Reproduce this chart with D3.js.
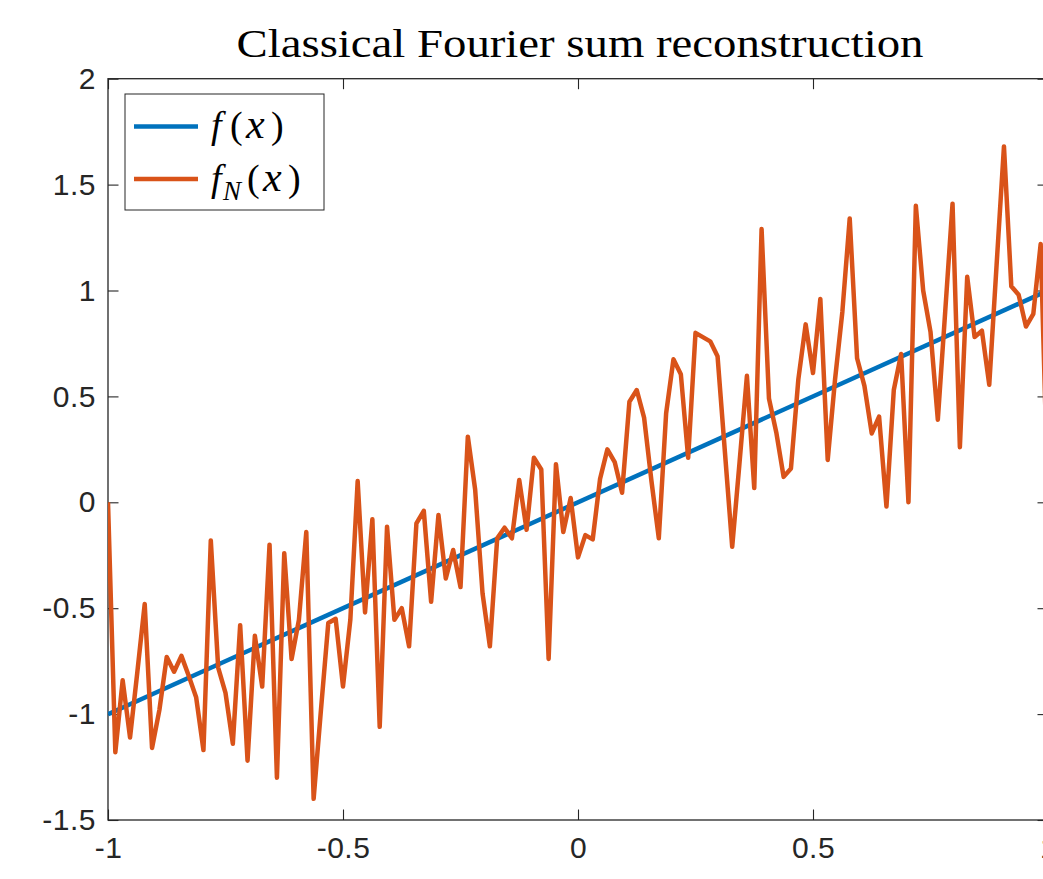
<!DOCTYPE html>
<meta charset="utf-8">
<style>

body {
  margin: 0;
  background: #fff;
}

svg {
  display: block;
}

.axis text {
  font-family: "Liberation Sans", Arial, sans-serif;
  font-size: 30px;
  letter-spacing: 0.5px;
  fill: #262626;
}

.math {
  font-family: "Liberation Serif", "Times New Roman", serif;
  font-size: 38px;
  fill: #000;
}

</style>
<svg width="1043" height="879"></svg>
<script src="https://d3js.org/d3.v7.min.js"></script>
<script>

// sample points of the reconstruction
var xs = [-1, -0.9844, -0.9688, -0.9531, -0.9375, -0.9219, -0.9063, -0.8906, -0.875, -0.8594,
  -0.8438, -0.8281, -0.8125, -0.7969, -0.7813, -0.7656, -0.75, -0.7344, -0.7188, -0.7031,
  -0.6875, -0.6719, -0.6563, -0.6406, -0.625, -0.6094, -0.5938, -0.5781, -0.5625, -0.5469,
  -0.5313, -0.5156, -0.5, -0.4844, -0.4688, -0.4531, -0.4375, -0.4219, -0.4063, -0.3906,
  -0.375, -0.3594, -0.3438, -0.3281, -0.3125, -0.2969, -0.2813, -0.2656, -0.25, -0.2344,
  -0.2188, -0.2031, -0.1875, -0.1719, -0.1563, -0.1406, -0.125, -0.1094, -0.0938, -0.0781,
  -0.0625, -0.0469, -0.0313, -0.0156, 0, 0.0156, 0.0313, 0.0469, 0.0625, 0.0781,
  0.0938, 0.1094, 0.125, 0.1406, 0.1563, 0.1719, 0.1875, 0.2031, 0.2188, 0.2344,
  0.25, 0.2656, 0.2813, 0.2969, 0.3125, 0.3281, 0.3438, 0.3594, 0.375, 0.3906,
  0.4063, 0.4219, 0.4375, 0.4531, 0.4688, 0.4844, 0.5, 0.5156, 0.5313, 0.5469,
  0.5625, 0.5781, 0.5938, 0.6094, 0.625, 0.6406, 0.6563, 0.6719, 0.6875, 0.7031,
  0.7188, 0.7344, 0.75, 0.7656, 0.7813, 0.7969, 0.8125, 0.8281, 0.8438, 0.8594,
  0.875, 0.8906, 0.9063, 0.9219, 0.9375, 0.9531, 0.9688, 0.9844, 1];

var fN = [0, -1.18, -0.84, -1.11, -0.80, -0.48, -1.16, -0.98, -0.73, -0.80,
  -0.725, -0.82, -0.92, -1.17, -0.18, -0.78, -0.90, -1.14, -0.58, -1.22,
  -0.63, -0.87, -0.20, -1.30, -0.24, -0.74, -0.555, -0.14, -1.40, -0.98,
  -0.57, -0.55, -0.87, -0.555, 0.10, -0.52, -0.08, -1.06, -0.115, -0.555,
  -0.50, -0.68, -0.10, -0.04, -0.47, -0.06, -0.36, -0.225, -0.40, 0.31,
  0.06, -0.43, -0.68, -0.17, -0.12, -0.17, 0.105, -0.13, 0.21, 0.155,
  -0.74, 0.18, -0.14, 0.02, -0.26, -0.155, -0.175, 0.11, 0.25, 0.19,
  0.045, 0.475, 0.53, 0.40, 0.10, -0.17, 0.42, 0.675, 0.605, 0.21,
  0.80, 0.78, 0.76, 0.69, 0.24, -0.21, 0.19, 0.597, 0.067, 1.29,
  0.49, 0.33, 0.12, 0.16, 0.58, 0.84, 0.61, 0.96, 0.20, 0.58,
  0.90, 1.34, 0.68, 0.55, 0.325, 0.405, -0.02, 0.53, 0.70, 0.0,
  1.40, 1.0, 0.805, 0.39, 0.90, 1.41, 0.26, 1.065, 0.78, 0.81,
  0.555, 1.12, 1.68, 1.02, 0.98, 0.83, 0.89, 1.22, 0];

// exact function f(x) = x
var fX = [-1, 1];
var fY = [-1, 1];

var xTicks = [-1, -0.5, 0, 0.5, 1];
var yTicks = [-1.5, -1, -0.5, 0, 0.5, 1, 1.5, 2];

var svg = d3.select("svg"),
    margin = {top: 78.7, left: 108},
    width = 940,
    height = 741.3,
    tick = 10.5;

var x = d3.scaleLinear().domain([-1, 1]).range([0, width]),
    y = d3.scaleLinear().domain([-1.5, 2]).range([height, 0]);

var fmt = function(d) { return String(d); };

var g = svg.append("g")
    .attr("transform", "translate(" + margin.left + "," + margin.top + ")");

g.append("clipPath")
    .attr("id", "clip")
  .append("rect")
    .attr("width", width)
    .attr("height", height);

// axes with inward ticks, matlab style
g.append("g")
    .attr("class", "axis")
    .attr("transform", "translate(0," + height + ")")
    .attr("color", "#262626")
    .call(d3.axisBottom(x).tickValues(xTicks).tickFormat(fmt).tickSizeInner(-tick).tickSizeOuter(0).tickPadding(16.5))
    .call(function(a) { a.select(".domain").remove(); });

g.append("g")
    .attr("class", "axis")
    .attr("color", "#262626")
    .call(d3.axisLeft(y).tickValues(yTicks).tickFormat(fmt).tickSizeInner(-tick).tickSizeOuter(0).tickPadding(12))
    .call(function(a) { a.select(".domain").remove(); });

g.append("g")
    .attr("color", "#262626")
    .call(d3.axisTop(x).tickValues(xTicks).tickFormat("").tickSizeInner(-tick).tickSizeOuter(0))
    .call(function(a) { a.select(".domain").remove(); });

g.append("g")
    .attr("transform", "translate(" + width + ",0)")
    .attr("color", "#262626")
    .call(d3.axisRight(y).tickValues(yTicks).tickFormat("").tickSizeInner(-tick).tickSizeOuter(0))
    .call(function(a) { a.select(".domain").remove(); });

g.selectAll(".tick line").attr("stroke-width", 1.1);

g.append("rect")
    .attr("width", width)
    .attr("height", height)
    .attr("fill", "none")
    .attr("stroke", "#262626")
    .attr("stroke-width", 1.3);

var lines = g.append("g").attr("clip-path", "url(#clip)");

var line = d3.line()
    .x(function(d) { return x(d[0]); })
    .y(function(d) { return y(d[1]); });

lines.append("path")
    .datum(d3.zip(fX, fY))
    .attr("fill", "none")
    .attr("stroke", "#0072BD")
    .attr("stroke-width", 4.5)
    .attr("d", line);

lines.append("path")
    .datum(d3.zip(xs, fN))
    .attr("fill", "none")
    .attr("stroke", "#D95319")
    .attr("stroke-width", 4.5)
    .attr("stroke-linejoin", "round")
    .attr("d", line);

// title
svg.append("text")
    .attr("x", margin.left + width / 2 + 2)
    .attr("y", 57)
    .attr("text-anchor", "middle")
    .attr("textLength", 687)
    .attr("lengthAdjust", "spacingAndGlyphs")
    .style("font-family", "'Liberation Serif', 'Times New Roman', serif")
    .style("font-size", "41px")
    .style("fill", "#000")
    .text("Classical Fourier sum reconstruction");

// legend
var legend = svg.append("g").attr("transform", "translate(125,94)");

legend.append("rect")
    .attr("width", 199)
    .attr("height", 116)
    .attr("fill", "#fff")
    .attr("stroke", "#262626")
    .attr("stroke-width", 1);

legend.append("line")
    .attr("x1", 9).attr("x2", 73).attr("y1", 32.5).attr("y2", 32.5)
    .attr("stroke", "#0072BD").attr("stroke-width", 4.5);

legend.append("line")
    .attr("x1", 9).attr("x2", 73).attr("y1", 85).attr("y2", 85)
    .attr("stroke", "#D95319").attr("stroke-width", 4.5);

var t1 = legend.append("text").attr("class", "math").attr("y", 44);
t1.append("tspan").attr("x", 86).style("font-style", "italic").text("f");
t1.append("tspan").attr("x", 105).text("(");
t1.append("tspan").attr("x", 121).style("font-style", "italic").style("font-size", "42px").text("x");
t1.append("tspan").attr("x", 146).text(")");

var t2 = legend.append("text").attr("class", "math").attr("y", 97);
t2.append("tspan").attr("x", 86).style("font-style", "italic").text("f");
t2.append("tspan").attr("x", 98).attr("dy", 9).style("font-style", "italic").style("font-size", "27px").text("N");
t2.append("tspan").attr("x", 122).attr("dy", -9).text("(");
t2.append("tspan").attr("x", 138).style("font-style", "italic").style("font-size", "42px").text("x");
t2.append("tspan").attr("x", 163).text(")");

</script>
